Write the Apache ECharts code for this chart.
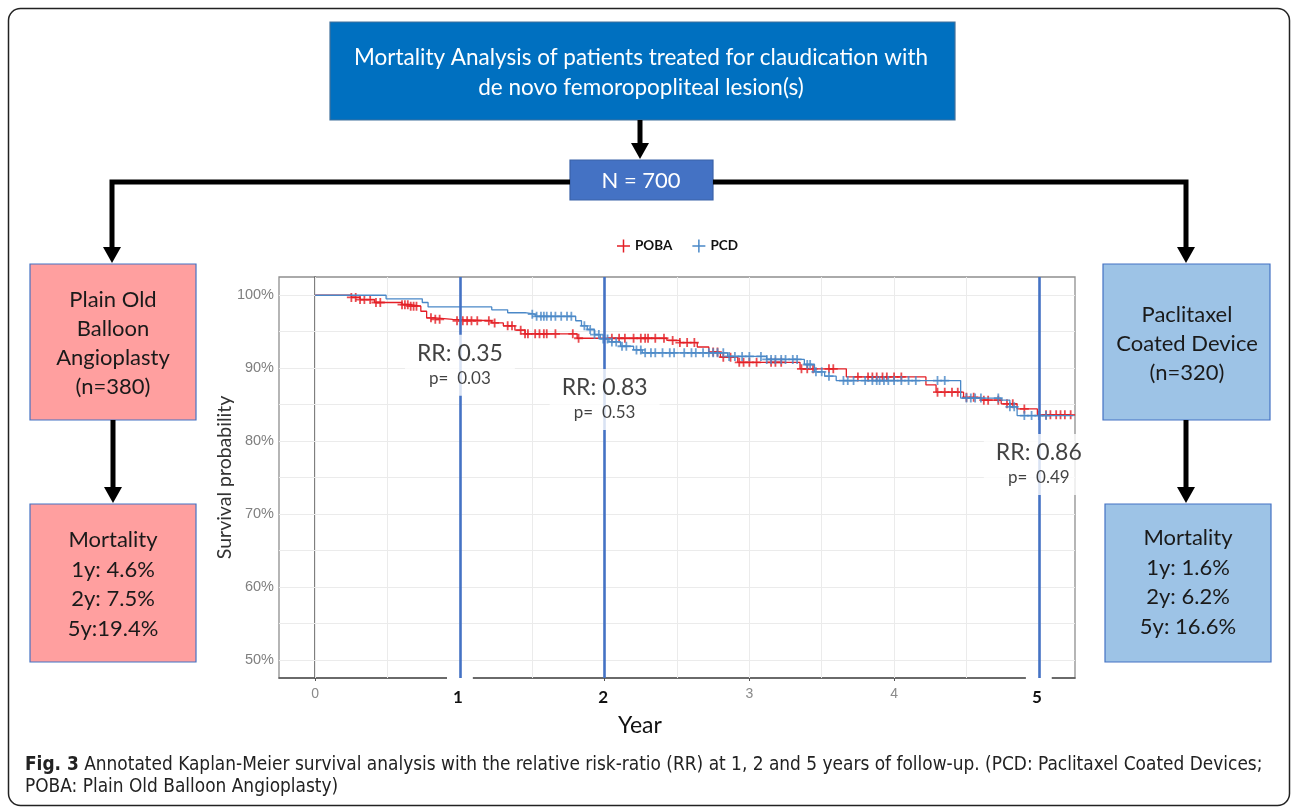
<!DOCTYPE html>
<html><head><meta charset="utf-8">
<script src="https://cdn.jsdelivr.net/npm/echarts@6/dist/echarts.min.js"></script>
<style>html,body{margin:0;padding:0;background:#fff}#c{width:1292px;height:808px}</style>
</head><body><div id="c"></div>
<script>
// ---------- DATA ----------
const pobaTimes = [0, 0.25, 0.31, 0.41, 0.60, 0.66, 0.73, 0.77, 0.83, 0.95, 1.22, 1.30, 1.38, 1.45, 1.81, 2.43, 2.52, 2.64, 2.72, 2.80, 2.92, 3.35, 3.67, 4.22, 4.29, 4.48, 4.60, 4.74, 4.85, 4.99, 5.22];
const pobaSurv  = [1.000, 0.997, 0.994, 0.990, 0.987, 0.985, 0.978, 0.969, 0.967, 0.965, 0.962, 0.958, 0.952, 0.947, 0.941, 0.938, 0.935, 0.929, 0.922, 0.915, 0.908, 0.899, 0.888, 0.877, 0.867, 0.860, 0.856, 0.851, 0.844, 0.836, 0.836];
const pobaCensor = [0.25, 0.28, 0.31, 0.34, 0.38, 0.42, 0.45, 0.60, 0.62, 0.64, 0.66, 0.68, 0.70, 0.80, 0.83, 0.86, 0.98, 1.02, 1.05, 1.08, 1.12, 1.20, 1.24, 1.33, 1.36, 1.42, 1.45, 1.47, 1.52, 1.55, 1.58, 1.60, 1.66, 1.78, 1.82, 2.05, 2.10, 2.14, 2.20, 2.25, 2.28, 2.30, 2.35, 2.41, 2.47, 2.52, 2.57, 2.62, 2.75, 2.78, 2.82, 2.87, 2.93, 2.96, 3.00, 3.05, 3.15, 3.18, 3.22, 3.36, 3.40, 3.44, 3.55, 3.58, 3.75, 3.82, 3.85, 3.88, 3.92, 3.95, 4.00, 4.05, 4.30, 4.35, 4.40, 4.44, 4.50, 4.55, 4.62, 4.65, 4.72, 4.78, 4.82, 4.90, 5.05, 5.08, 5.12, 5.15, 5.18, 5.22];

const pcdTimes = [0, 0.49, 0.74, 0.78, 1.22, 1.33, 1.45, 1.52, 1.80, 1.84, 1.88, 1.93, 1.97, 2.03, 2.11, 2.20, 2.26, 2.85, 3.12, 3.38, 3.45, 3.52, 3.60, 4.46, 4.74, 4.80, 4.85, 5.24];
const pcdSurv  = [1.000, 0.995, 0.990, 0.984, 0.980, 0.976, 0.974, 0.971, 0.965, 0.958, 0.953, 0.946, 0.940, 0.936, 0.930, 0.925, 0.921, 0.916, 0.912, 0.905, 0.895, 0.889, 0.883, 0.859, 0.856, 0.847, 0.835, 0.835];
const pcdCensor = [1.50, 1.53, 1.56, 1.58, 1.60, 1.63, 1.66, 1.70, 1.74, 1.77, 1.86, 1.90, 1.93, 1.96, 1.99, 2.02, 2.05, 2.08, 2.12, 2.15, 2.22, 2.25, 2.28, 2.32, 2.35, 2.40, 2.45, 2.48, 2.55, 2.60, 2.63, 2.68, 2.72, 2.75, 2.78, 2.82, 2.86, 2.90, 2.95, 3.00, 3.08, 3.12, 3.15, 3.18, 3.22, 3.25, 3.30, 3.33, 3.40, 3.42, 3.46, 3.50, 3.55, 3.65, 3.68, 3.72, 3.80, 3.85, 3.88, 3.90, 3.93, 3.96, 4.00, 4.05, 4.10, 4.15, 4.30, 4.35, 4.50, 4.53, 4.56, 4.60, 4.72, 4.80, 4.83, 4.90, 4.95, 5.00, 5.05];

const xTickValues = [0, 1, 2, 3, 4, 5];
const yTickValues = [0.5, 0.6, 0.7, 0.8, 0.9, 1.0];
const xGridValues = [0, 0.5, 1, 1.5, 2, 2.5, 3, 3.5, 4, 4.5, 5];
const yGridValues = [0.50, 0.55, 0.60, 0.65, 0.70, 0.75, 0.80, 0.85, 0.90, 0.95, 1.00];
const boldYears = [1, 2, 5];
const rrYears  = [1, 2, 5];
const rrValues = ['0.35', '0.83', '0.86'];
const pValues  = ['0.03', '0.53', '0.49'];
const groupNames = ['POBA', 'PCD'];

// ---------- LAYOUT ----------
const LAYOUT = { rrLabelY: [0.904, 0.857, 0.768], maskedTickYears: [1, 5] };
const RED = '#E41F26', BLUE = '#4A88C7', LINEBLUE = '#4472C4';
const CAL = 'Lato, "Open Sans", sans-serif';
const ARI = '"Liberation Sans", Arial, sans-serif';
const plusIcon = 'path://M4,0h2v4h4v2h-4v4h-2v-4h-4v-2h4z';
const plusLegend = 'path://M6.2,0h1.6v6.2h6.2v1.6h-6.2v6.2h-1.6v-6.2h-6.2v-1.6h6.2z';

function survAt(times, surv, t) {
  let s = surv[0];
  for (let i = 0; i < times.length; i++) if (times[i] <= t) s = surv[i];
  return s;
}
const zip = (a, b) => a.map((v, i) => [v, b[i]]);

// ---------- GRAPHIC (flowchart) ----------
const g = [];
function box(x, y, w, h, fill, stroke) {
  g.push({ type: 'rect', silent: true, shape: { x, y, width: w, height: h }, style: { fill, stroke, lineWidth: 1.2 } });
}
function txt(x, y, text, size, color, extra) {
  g.push(Object.assign({ type: 'text', silent: true, x, y,
    style: { text, fill: color, font: `${size}px ${CAL}`, align: 'center', verticalAlign: 'middle', textAlign: 'center', textVerticalAlign: 'middle' } }, extra || {}));
}
function line(points) {
  g.push({ type: 'polyline', silent: true, shape: { points }, style: { stroke: '#000', lineWidth: 5, fill: null } });
}
function head(x, yTip) {
  g.push({ type: 'polygon', silent: true, shape: { points: [[x - 9, yTip - 16], [x + 9, yTip - 16], [x, yTip]] }, style: { fill: '#000' } });
}
// frame
g.push({ type: 'rect', silent: true, shape: { x: 8.5, y: 8.5, width: 1281, height: 797, r: 12 }, style: { fill: null, stroke: '#222', lineWidth: 1.5 } });
// top box
box(330, 22, 625, 98, '#0070C0', '#41719C');
txt(641, 58, 'Mortality Analysis of patients treated for claudication with', 22.5, '#fff');
txt(641, 88, 'de novo femoropopliteal lesion(s)', 22.5, '#fff');
line([[640, 120], [640, 146]]); head(640, 159);
// N box
box(570, 160, 143, 40, '#4472C4', '#3a62a8');
txt(641, 181, 'N = 700', 22, '#fff');
// connectors
line([[570, 182], [112, 182], [112, 250]]); head(112, 263);
line([[713, 182], [1186, 182], [1186, 250]]); head(1186, 263);
// left boxes
box(30, 264, 166, 156, '#FF9F9F', '#4472C4');
['Plain Old', 'Balloon', 'Angioplasty', '(n=380)'].forEach((t, i) => txt(113, 300 + i * 29, t, 22, '#1a1a1a'));
line([[113, 420], [113, 489]]); head(113, 503);
box(30, 504, 166, 158, '#FF9F9F', '#4472C4');
['Mortality', '1y: 4.6%', '2y: 7.5%', '5y:19.4%'].forEach((t, i) => txt(113, 540 + i * 29.5, t, 22, '#1a1a1a'));
// right boxes
box(1103, 264, 167, 156, '#9DC3E6', '#4472C4');
['Paclitaxel', 'Coated Device', '(n=320)'].forEach((t, i) => txt(1187, 315 + i * 29, t, 22, '#1a1a1a'));
line([[1186, 420], [1186, 489]]); head(1186, 503);
box(1105, 504, 166, 158, '#9DC3E6', '#4472C4');
['Mortality', '1y: 1.6%', '2y: 6.2%', '5y: 16.6%'].forEach((t, i) => txt(1188, 538 + i * 29.5, t, 22, '#1a1a1a'));
// axis title Year
txt(640, 726, 'Year', 23, '#111');
// caption
const CAPF = '"Liberation Sans Narrow", "DejaVu Sans Condensed", sans-serif';
g.push({ type: 'text', silent: true, x: 25, y: 765, style: {
  text: '{b|Fig. 3} Annotated Kaplan-Meier survival analysis with the relative risk-ratio (RR) at 1, 2 and 5 years of follow-up. (PCD: Paclitaxel Coated Devices;',
  font: `18.9px ${CAPF}`, fill: '#222', verticalAlign: 'middle', textVerticalAlign: 'middle',
  rich: { b: { fontWeight: 'bold', fontSize: 18.9, fontFamily: CAPF, fill: '#222' } } } });
g.push({ type: 'text', silent: true, x: 25, y: 787, style: {
  text: 'POBA: Plain Old Balloon Angioplasty)', font: `18.9px ${CAPF}`, fill: '#222', verticalAlign: 'middle', textVerticalAlign: 'middle' } });

// ---------- CHART ----------
const chart = echarts.init(document.getElementById('c'), null, { renderer: 'canvas' });
chart.setOption({
  animation: false,
  backgroundColor: '#fff',
  graphic: { elements: g },
  legend: {
    top: 234, left: 612, itemWidth: 13, itemHeight: 13, itemGap: 20, selectedMode: false,
    data: groupNames.map(n => ({ name: n, icon: plusLegend })),
    textStyle: { fontFamily: CAL, fontWeight: 'bold', fontSize: 13.5, color: '#111' }
  },
  grid: { left: 279, right: 217, top: 277, bottom: 130, show: true, borderColor: '#8f8f8f', borderWidth: 1.3, backgroundColor: '#fff', containLabel: false, outerBoundsMode: 'none' },
  xAxis: {
    type: 'value', min: -0.25, max: 5.25,
    axisLine: { show: true, lineStyle: { color: '#555', width: 1.5 } },
    axisTick: { show: true, length: 3, customValues: xTickValues, lineStyle: { color: '#555' } },
    splitLine: { show: false },
    axisLabel: {
      customValues: xTickValues, margin: -2,
      formatter: v => LAYOUT.maskedTickYears.includes(v) ? `{w|${v}}` : (boldYears.includes(v) ? `{b|${v}}` : `{n|${v}}`),
      rich: {
        n: { color: '#8a8a8a', fontSize: 14, fontFamily: ARI, padding: [11, 0, 0, 0] },
        b: { color: '#111', fontSize: 17, fontWeight: 'bold', fontFamily: CAL, padding: [13, 3, 0, 0] },
        w: { color: '#111', fontSize: 17, fontWeight: 'bold', fontFamily: CAL, padding: [13, 10, 0, 6], backgroundColor: '#fff' }
      }
    }
  },
  yAxis: {
    type: 'value', min: 0.475, max: 1.025,
    name: 'Survival probability', nameLocation: 'middle', nameGap: 44, nameRotate: 90, nameMoveOverlap: false,
    nameTextStyle: { fontFamily: CAL, fontSize: 19.5, color: '#333' },
    axisLine: { show: true, lineStyle: { color: '#555', width: 1.5 } },
    axisTick: { show: true, length: 3, customValues: yTickValues, lineStyle: { color: '#555' } },
    splitLine: { show: false },
    axisLabel: {
      customValues: yTickValues, margin: 5, color: '#7f7f7f', fontSize: 14.5, fontFamily: ARI,
      formatter: v => Math.round(v * 100) + '%'
    }
  },
  series: [
    { type: 'line', name: 'grid', data: [[0, 1]], showSymbol: false, symbol: 'none', silent: true, z: 1,
      lineStyle: { width: 0, opacity: 0 },
      markLine: { silent: true, symbol: ['none', 'none'], z: 1, animation: false, label: { show: false },
        lineStyle: { color: '#ebebeb', width: 1, type: 'solid' },
        emphasis: { disabled: true },
        data: xGridValues.map(v => ({ xAxis: v })).concat(yGridValues.map(v => ({ yAxis: v }))) } },
    { type: 'line', name: 'POBA', step: 'end', data: zip(pobaTimes, pobaSurv), showSymbol: false, symbol: 'none', silent: true, z: 10,
      lineStyle: { color: RED, width: 1.3 }, itemStyle: { color: RED } },
    { type: 'scatter', name: 'POBA', data: pobaCensor.map(t => [t, survAt(pobaTimes, pobaSurv, t)]), symbol: plusIcon, symbolSize: 9, silent: true, z: 11,
      itemStyle: { color: RED } },
    { type: 'line', name: 'PCD', step: 'end', data: zip(pcdTimes, pcdSurv), showSymbol: false, symbol: 'none', silent: true, z: 12,
      lineStyle: { color: BLUE, width: 1.3 }, itemStyle: { color: BLUE } },
    { type: 'scatter', name: 'PCD', data: pcdCensor.map(t => [t, survAt(pcdTimes, pcdSurv, t)]), symbol: plusIcon, symbolSize: 9, silent: true, z: 13,
      itemStyle: { color: BLUE } },
    { type: 'line', name: 'vlines', data: [[0, 1]], showSymbol: false, symbol: 'none', silent: true, z: 14,
      lineStyle: { width: 0, opacity: 0 },
      markLine: { silent: true, symbol: ['none', 'none'], z: 14, animation: false, label: { show: false },
        lineStyle: { color: LINEBLUE, width: 2.6, type: 'solid' },
        emphasis: { disabled: true },
        data: rrYears.map(v => ({ xAxis: v })) } },
    { type: 'scatter', name: 'annot', silent: true, z: 20, symbolSize: 1,
      itemStyle: { color: 'rgba(0,0,0,0)' },
      data: rrYears.map((yr, i) => ({ value: [yr, LAYOUT.rrLabelY[i]], rr: rrValues[i], p: pValues[i] })),
      label: {
        show: true, position: 'inside', backgroundColor: '#fff', padding: [5, 12, 5, 12],
        formatter: p => `{a|RR: ${p.data.rr}}\n{b|p=  ${p.data.p}}`,
        rich: {
          a: { fontFamily: CAL, fontSize: 23, color: '#111', lineHeight: 27, align: 'center' },
          b: { fontFamily: CAL, fontSize: 17, color: '#111', lineHeight: 24, align: 'center' }
        }
      } }
  ]
});
</script></body></html>
